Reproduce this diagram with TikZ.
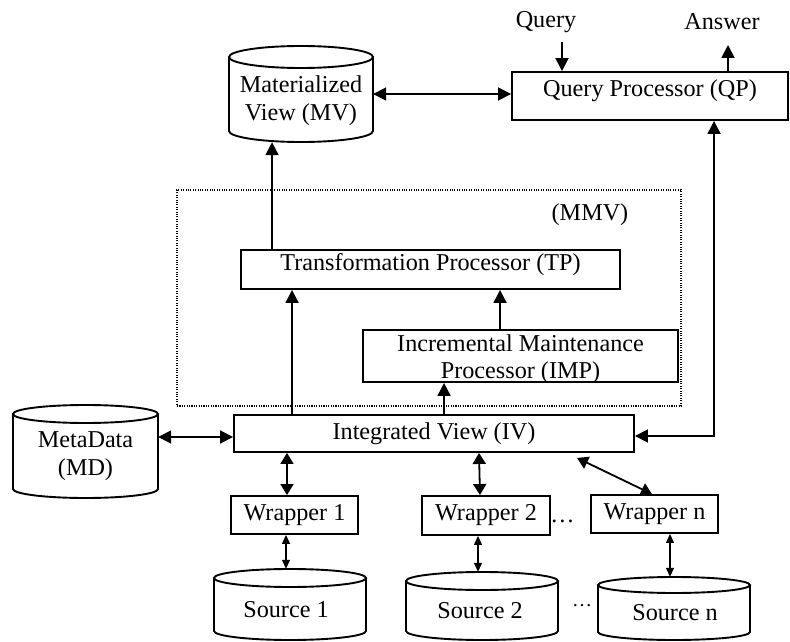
\documentclass[tikz,border=0pt]{standalone}
\usepackage{fontspec}
\setmainfont{Liberation Serif}
\usetikzlibrary{arrows.meta}
\tikzset{
  every node/.style={font=\fontsize{24.2pt}{28pt}\selectfont},
  box/.style={draw, line width=1.9pt, inner sep=0pt},
  cylnode/.style={inner sep=0pt},
  cyl/.style={line width=1.9pt},
  lbl/.style={align=center, inner sep=0pt},
  arr/.style={line width=1.8pt, -{Triangle[length=13pt,width=13pt]}},
  darr/.style={line width=1.8pt, {Triangle[length=13pt,width=13pt]}-{Triangle[length=13pt,width=13pt]}},
  midarr/.style={line width=1.8pt, {Triangle[length=11pt,width=13pt]}-{Triangle[length=11pt,width=13pt]}},
  thinarr/.style={line width=1.2pt, {Triangle[length=9pt,width=8pt]}-{Triangle[length=9pt,width=8pt]}},
  dotbox/.style={draw, line width=1.2pt, dash pattern=on 1.1pt off 1.3pt, inner sep=0pt},
}
% name, cx, cy, half width, half height, ry
\newcommand{\dbcyl}[6]{%
  \node[cylnode, minimum width={(2*#4)*1pt}, minimum height={(2*#5)*1pt}] (#1) at (#2,#3) {};
  \draw[cyl, fill=white] (#2-#4,#3+#5-#6) -- (#2-#4,#3-#5+#6)
     arc[start angle=180, end angle=360, x radius=#4, y radius=#6] -- (#2+#4,#3+#5-#6);
  \draw[cyl] (#2,#3+#5-#6) ellipse[x radius=#4, y radius=#6];
}
\begin{document}
\begin{tikzpicture}[x=1pt, y=1pt]
\useasboundingbox (0,0) rectangle (790,641);

% dotted MMV region
\node[dotbox, minimum width=504pt, minimum height=216pt] (mmv) at (429,343) {};
\node[lbl] (mmvlabel) at (590,426) {(MMV)};

% Query processor
\node[box, minimum width=276pt, minimum height=48pt, text height=10pt, text depth=9pt] (qp) at (650,545) {Query Processor (QP)};
\node[lbl] (query) at (546,619) {Query};
\node[lbl] (answer) at (722,619) {Answer};
\coordinate (qin) at (562,599);
\coordinate (aout) at (728,596);

% cylinders
\dbcyl{mv}{301}{547}{72}{48}{11}
\node[lbl] (mvlabel) at (301,540) {Materialized\\View (MV)};
\dbcyl{md}{85.5}{189.5}{72.5}{46.5}{9}
\node[lbl] (mdlabel) at (85.5,184.5) {MetaData\\(MD)};
\dbcyl{s1}{290}{36.5}{76}{35.5}{9}
\node[lbl] (s1label) at (286,31) {Source 1};
\dbcyl{s2}{482}{35}{76}{34}{9}
\node[lbl] (s2label) at (480,30) {Source 2};
\dbcyl{sn}{674}{32.5}{76}{31.5}{8}
\node[lbl] (snlabel) at (675,28) {Source n};

% processors
\node[box, minimum width=379pt, minimum height=39pt, text height=11pt, text depth=8pt] (tp) at (430.5,371.5) {Transformation Processor (TP)};
\node[box, minimum width=315pt, minimum height=52pt] (imp) at (520.5,285) {};
\node[lbl] (implabel) at (520.5,281.5) {Incremental Maintenance\\[-1pt]Processor (IMP)};
\node[box, minimum width=400pt, minimum height=37pt] (iv) at (434,207.5) {Integrated View (IV)};

% wrappers
\node[box, minimum width=127pt, minimum height=38pt] (w1) at (294.5,126) {Wrapper 1};
\node[box, minimum width=128pt, minimum height=39pt] (w2) at (486,125.5) {Wrapper 2};
\node[box, minimum width=127pt, minimum height=38pt] (wn) at (654.5,127) {Wrapper n};
\node[anchor=base, inner sep=0pt] (dotsw) at (562.5,119) {…};
\node[anchor=base, inner sep=0pt, font=\fontsize{20pt}{24pt}\selectfont] (dotss) at (582,34.5) {…};

% connectors
\draw[arr] (qin) -- (qin |- qp.north);
\draw[arr] (aout |- qp.north) -- (aout);
\draw[darr] (mv.east) -- (mv.east -| qp.west);
\draw[arr] ([xshift=32pt]tp.north west) -- ([xshift=32pt]tp.north west |- mv.south);
\draw[arr] ([xshift=59pt]iv.north west) -- ([xshift=59pt]iv.north west |- tp.south);
\draw[arr] ([xshift=138pt]imp.north west) -- ([xshift=138pt]imp.north west |- tp.south);
\draw[arr] ([xshift=211pt]iv.north west) -- ([xshift=211pt]iv.north west |- imp.south);
\draw[darr] ([yshift=-3.5pt]iv.west) -- ([yshift=-3.5pt]iv.west -| md.east);
\draw[darr] ([xshift=203pt]qp.south west) |- ([yshift=-2.5pt]iv.east);
\draw[midarr] ([xshift=-7.5pt]w1.north |- iv.south) -- ([xshift=-7.5pt]w1.north);
\draw[midarr] ([xshift=-7pt]w2.north |- iv.south) -- ([xshift=-6pt]w2.north);
\draw[midarr] ([xshift=344pt,yshift=-5pt]iv.south west) -- ([xshift=-2.5pt]wn.north);
\draw[thinarr] ([xshift=-8.5pt]w1.south) -- ([xshift=-8.5pt]w1.south |- s1.north);
\draw[thinarr] ([xshift=-8pt]w2.south) -- ([xshift=-8pt]w2.south |- s2.north);
\draw[thinarr] ([xshift=15.5pt]wn.south) -- ([xshift=15.5pt]wn.south |- sn.north);
\end{tikzpicture}
\end{document}
